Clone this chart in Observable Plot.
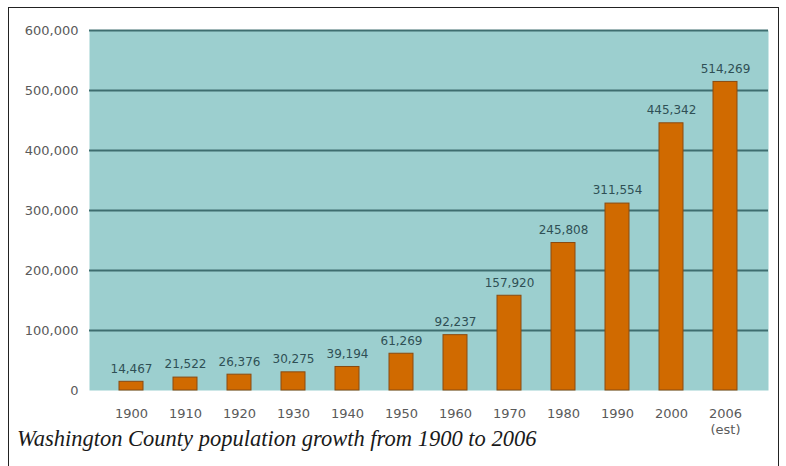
<!DOCTYPE html>
<html>
<head>
<meta charset="utf-8">
<script src="https://cdn.jsdelivr.net/npm/d3@7"></script>
<script src="https://cdn.jsdelivr.net/npm/@observablehq/plot@0.6"></script>
<style>
  html, body { margin: 0; padding: 0; background: #fff; }
  body { width: 786px; height: 466px; position: relative; overflow: hidden; }
  #frame { position: absolute; left: 8px; top: 7px; width: 771px; height: 480px;
           border: 1.5px solid #222; border-bottom: none; box-sizing: border-box; }
  #chart { position: absolute; left: 0; top: 0; }
  #caption { position: absolute; left: 17px; top: 426px; font-family: "Liberation Serif", serif;
             font-style: italic; font-size: 22.5px; color: #1a1a1a; white-space: nowrap; }
</style>
</head>
<body>
<div id="frame"></div>
<div id="chart"></div>
<div id="caption">Washington County population growth from 1900 to 2006</div>
<script>
const years = ["1900","1910","1920","1930","1940","1950","1960","1970","1980","1990","2000","2006"];
const population = [14467, 21522, 26376, 30275, 39194, 61269, 92237, 157920, 245808, 311554, 445342, 514269];
const yTicks = [0, 100000, 200000, 300000, 400000, 500000, 600000];
const yearLabels = ["1900","1910","1920","1930","1940","1950","1960","1970","1980","1990","2000","2006\n(est)"];

const data = years.map((y, i) => ({year: y, pop: population[i]}));
const fmt = d3.format(",");

const chart = Plot.plot({
  width: 786,
  height: 446,
  marginLeft: 89,
  marginRight: 18,
  marginTop: 30,
  marginBottom: 56,
  style: {fontFamily: "DejaVu Sans, Verdana, sans-serif", fontSize: "12px", background: "transparent"},
  x: {domain: years, padding: 0.55, label: null},
  y: {domain: [0, 600000], label: null},
  marks: [
    Plot.frame({fill: "#9ccfcf", stroke: null}),
    Plot.ruleY(yTicks.filter(d => d > 0), {stroke: "#3e6e70", strokeWidth: 2}),
    Plot.barY(data, {x: "year", y: "pop", fill: "#d06a00", stroke: "#8a4a10", strokeWidth: 1}),
    Plot.text(data, {x: "year", y: "pop", text: d => fmt(d.pop), dy: -13, fill: "#2f4f55", fontSize: 12}),
    Plot.axisX({tickSize: 0, tickPadding: 16, fill: "#5a5a5a", fontSize: 13, lineHeight: 1.25,
      tickFormat: (d) => yearLabels[years.indexOf(d)]}),
    Plot.axisY({ticks: yTicks, tickSize: 0, tickPadding: 11, fill: "#5a5a5a", fontSize: 13,
      tickFormat: (d) => fmt(d)})
  ]
});
document.getElementById("chart").appendChild(chart);
</script>
</body>
</html>
